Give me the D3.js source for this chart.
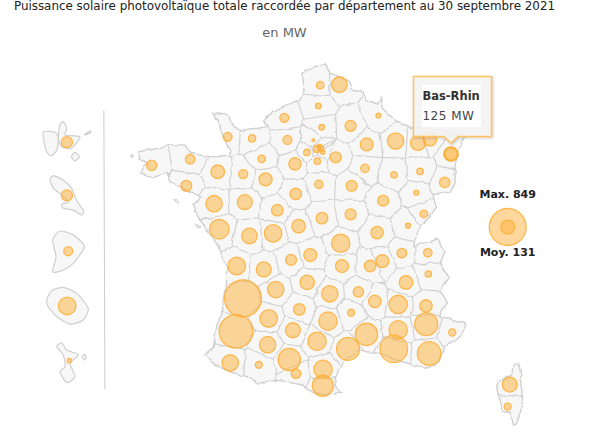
<!DOCTYPE html>
<html><head><meta charset="utf-8">
<script src="https://cdn.jsdelivr.net/npm/d3@7"></script>
<style>html,body{margin:0;padding:0;background:#fff}svg{display:block}text{font-family:"DejaVu Sans",sans-serif}</style>
</head><body><svg id="c" width="600" height="435"></svg>
<script>
const titleText = "Puissance solaire photovoltaïque totale raccordée par département au 30 septembre 2021";
const subtitleText = "en MW";
const unit = "MW";
const legendMax = 849, legendMean = 131;
const hovered = "Bas-Rhin";

const departments = ["Nord","Pas-de-Calais","Somme","Oise","Aisne","Seine-Maritime","Manche","Calvados","Eure","Finistère","Côtes-d'Armor","Ille-et-Vilaine","Morbihan","Mayenne","Orne","Sarthe","Eure-et-Loir","Yvelines","Val-d'Oise","Hauts-de-Seine","Paris","Val-de-Marne","Seine-Saint-Denis","Essonne","Seine-et-Marne","Loiret","Loir-et-Cher","Loire-Atlantique","Maine-et-Loire","Indre-et-Loire","Cher","Nièvre","Indre","Vendée","Deux-Sèvres","Vienne","Allier","Ardennes","Marne","Meuse","Meurthe-et-Moselle","Moselle","Bas-Rhin","Aube","Haute-Marne","Vosges","Yonne","Côte-d'Or","Haute-Saône","Haut-Rhin","Doubs","Jura","Saône-et-Loire","Haute-Vienne","Creuse","Puy-de-Dôme","Loire","Rhône","Ain","Haute-Savoie","Savoie","Isère","Charente-Maritime","Charente","Corrèze","Gironde","Dordogne","Cantal","Haute-Loire","Ardèche","Drôme","Hautes-Alpes","Lot","Lozère","Landes","Lot-et-Garonne","Aveyron","Tarn-et-Garonne","Gard","Tarn","Gers","Hérault","Haute-Garonne","Pyrénées-Atlantiques","Hautes-Pyrénées","Aude","Ariège","Pyrénées-Orientales","Alpes-de-Haute-Provence","Vaucluse","Alpes-Maritimes","Bouches-du-Rhône","Var","Haute-Corse","Corse-du-Sud"];
const power = [162,43,26,26,85,59,59,43,59,76,66,125,85,59,43,115,106,32,9,38,32,17,12,32,85,52,93,178,150,93,93,85,125,250,162,203,221,21,115,178,150,125,125,52,32,32,85,85,21,76,43,21,106,85,115,115,93,115,66,52,32,125,203,150,139,849,178,178,76,106,221,106,93,38,704,203,221,150,322,221,178,339,322,178,38,221,66,285,339,221,38,481,356,150,38];
const lon = [3.17,2.43,2.36,2.49,3.60,1.05,-1.13,-0.19,1.17,-4.05,-2.57,-1.51,-2.72,-0.53,0.18,0.33,1.46,1.92,2.17,2.30,2.44,2.53,2.40,2.32,3.03,2.38,1.49,-1.65,-0.47,0.78,2.50,3.60,1.60,-1.45,-0.29,0.62,3.22,4.67,4.22,5.33,6.19,6.65,7.46,4.15,5.27,6.27,3.64,4.85,6.13,7.22,6.42,5.81,4.62,1.31,2.05,3.27,4.35,4.82,5.57,6.57,6.59,5.73,-0.78,0.26,1.93,-0.54,0.72,2.80,3.90,4.53,5.43,6.50,1.63,3.62,-0.81,0.45,2.73,1.38,4.21,2.31,0.41,3.50,1.24,-1.03,0.07,2.54,1.50,2.53,6.51,5.43,7.51,5.26,6.62,9.72,9.64];
const lat = [50.55,50.54,49.99,49.43,49.47,49.68,49.18,49.14,49.10,48.43,48.59,48.26,47.89,48.20,48.60,48.06,48.47,48.77,49.09,48.86,48.88,48.78,48.94,48.54,48.64,47.93,47.68,47.42,47.46,47.25,47.04,47.14,46.83,46.75,46.57,46.64,46.38,49.74,48.98,49.07,49.02,49.12,48.73,48.35,48.18,48.27,47.89,47.50,47.71,47.98,47.15,46.84,46.66,45.94,46.07,45.78,45.78,45.91,46.12,46.13,45.57,45.35,45.78,45.69,45.35,44.93,45.16,45.05,45.10,44.85,44.77,44.73,44.64,44.55,44.06,44.40,44.33,44.09,43.98,43.80,43.71,43.60,43.32,43.23,43.18,43.06,42.95,42.63,44.25,44.10,44.03,43.60,43.48,42.66,42.08];

const overseas = ["Guadeloupe","Martinique","Guyane","La Réunion","Mayotte"];
const overseasPower = [85,85,59,203,17];
const overseasLon = [-7.31,-7.31,-7.26,-7.30,-7.22];
const overseasLat = [49.04,47.64,46.17,44.73,43.29];

const mainland = [[2.23,51.03],[2.62,51.10],[2.81,50.86],[3.12,50.78],[3.46,50.68],[3.65,50.41],[4.08,50.36],[4.19,50.15],[4.62,50.02],[4.80,50.20],[4.81,49.94],[5.31,49.62],[5.96,49.41],[6.46,49.44],[7.04,49.36],[7.5,49.28],[8.0,49.18],[7.73,48.83],[7.62,48.39],[7.62,47.99],[7.42,47.70],[7.15,47.73],[6.77,47.65],[6.91,47.33],[6.53,46.99],[6.19,46.68],[6.0,46.31],[6.46,46.39],[6.96,46.49],[7.23,46.16],[7.04,45.89],[7.35,45.47],[7.04,45.15],[7.30,44.84],[7.04,44.45],[8.07,44.28],[7.81,43.92],[7.23,43.66],[7.04,43.26],[6.58,43.10],[6.0,43.18],[5.62,43.26],[4.73,43.49],[4.35,43.49],[4.03,43.57],[3.38,43.31],[3.12,43.04],[3.0,42.60],[3.26,42.47],[2.54,42.39],[1.96,42.52],[1.72,42.65],[0.76,42.78],[0.04,42.70],[-0.40,42.87],[-1.04,43.00],[-1.62,43.18],[-2.0,43.44],[-1.69,43.62],[-1.55,44.18],[-1.31,44.68],[-1.17,45.33],[-1.17,45.76],[-1.42,46.12],[-1.5,46.33],[-1.88,46.68],[-2.27,47.08],[-2.46,47.39],[-2.13,47.60],[-2.46,47.70],[-3.35,48.00],[-3.47,48.23],[-4.05,48.10],[-4.5,48.26],[-4.24,48.49],[-4.57,48.62],[-4.5,48.79],[-3.73,48.88],[-3.35,48.97],[-2.77,48.97],[-2.58,48.75],[-1.81,48.66],[-1.04,48.66],[-1.04,48.83],[-1.31,49.18],[-1.5,49.62],[-1.69,49.80],[-1.04,49.74],[-0.92,49.45],[-0.54,49.36],[0.42,49.45],[0.23,49.58],[0.62,49.84],[1.65,50.15],[1.85,50.37],[1.72,50.85]];
const corsica = [[9.88,43.20],[10.08,43.20],[10.12,43.00],[10.23,42.52],[10.18,41.91],[9.88,41.60],[9.73,41.91],[9.46,41.99],[9.35,42.25],[9.22,42.52],[9.35,42.78],[9.73,42.87],[9.85,42.97]];
const smallIslands = [[[-3.23,47.53],[-3.04,47.48],[-3.04,47.41],[-3.19,47.47]],[[-4.88,48.70],[-4.77,48.72],[-4.77,48.66]],[[-2.38,46.89],[-2.15,46.81],[-2.27,46.78]]];
const overseasShapes = [
 [[-8.22,49.30],[-7.77,49.30],[-7.64,49.14],[-7.70,48.83],[-7.93,48.68],[-8.12,48.83]],
 [[-7.58,49.49],[-7.45,49.58],[-7.32,49.40],[-7.38,49.23],[-6.81,49.18],[-7.13,48.88],[-7.51,48.92],[-7.64,49.14]],
 [[-7.14,48.66],[-7.0,48.77],[-6.83,48.66],[-7.0,48.55]],
 [[-6.62,49.25],[-6.40,49.33],[-6.42,49.28],[-6.60,49.23]],
 [[-7.96,48.04],[-7.83,48.16],[-7.45,48.04],[-7.13,47.83],[-7.0,47.60],[-6.87,47.43],[-6.68,47.25],[-6.74,47.12],[-7.07,47.25],[-7.45,47.30],[-7.51,47.41],[-7.26,47.47],[-7.51,47.65],[-7.83,47.83]],
 [[-7.86,46.47],[-7.58,46.70],[-7.07,46.60],[-6.64,46.29],[-7.07,45.85],[-7.51,45.66],[-7.86,45.63],[-7.73,46.03]],
 [[-8.09,44.89],[-7.90,45.13],[-7.45,45.22],[-6.93,45.06],[-6.49,44.67],[-6.68,44.36],[-7.19,44.25],[-7.70,44.45],[-8.03,44.71]],
 [[-7.70,43.66],[-7.51,43.76],[-7.32,43.57],[-6.87,43.44],[-7.19,43.22],[-7.0,42.87],[-7.32,42.71],[-7.58,43.00],[-7.38,43.13],[-7.45,43.44]],
 [[-6.72,43.39],[-6.64,43.46],[-6.57,43.38],[-6.64,43.31]]
];

const svg = d3.select("#c");
const x = d3.scaleLinear().domain([0,10]).range([257,517]);
const y = d3.scaleLinear().domain([48.86,42.86]).range([149,377]);
const r = d3.scaleSqrt().domain([0,legendMax]).range([0,19]);
const line = d3.line().x(d=>x(d[0])).y(d=>y(d[1])).curve(d3.curveCardinalClosed.tension(0.35));
const poly = d3.line().x(d=>x(d[0])).y(d=>y(d[1]));

const defs = svg.append("defs");
const f = defs.append("filter").attr("id","rough").attr("filterUnits","userSpaceOnUse")
  .attr("x",0).attr("y",0).attr("width",600).attr("height",435).attr("color-interpolation-filters","sRGB");
f.append("feTurbulence").attr("type","fractalNoise").attr("baseFrequency",0.11).attr("numOctaves",2).attr("seed",4).attr("result","n");
f.append("feDisplacementMap").attr("in","SourceGraphic").attr("in2","n").attr("scale",4.5).attr("xChannelSelector","R").attr("yChannelSelector","G").attr("result","d");
f.append("feGaussianBlur").attr("in","d").attr("stdDeviation",0.3);
const soft = defs.append("filter").attr("id","soft");
soft.append("feGaussianBlur").attr("stdDeviation",0.25);
const shadow = defs.append("filter").attr("id","shadow").attr("x","-20%").attr("y","-20%").attr("width","150%").attr("height","150%");
shadow.append("feDropShadow").attr("dx",1).attr("dy",1).attr("stdDeviation",1.2).attr("flood-color","#000").attr("flood-opacity",0.25);

const metroPath = poly(mainland)+"Z"+poly(corsica)+"Z";
defs.append("clipPath").attr("id","metro").append("path").attr("d",metroPath);

const base = svg.append("g").attr("filter","url(#rough)");
base.append("path").attr("d",metroPath).attr("fill","#f7f7f7");
const seeds = lon.map((d,i)=>[x(d),y(lat[i])]);
const voronoi = d3.Delaunay.from(seeds).voronoi([0,0,600,435]);
base.append("path").attr("clip-path","url(#metro)").attr("d",voronoi.render())
  .attr("fill","none").attr("stroke","#d2d2d2").attr("stroke-width",1.2);
base.append("path").attr("d",metroPath).attr("fill","none").attr("stroke","#cfcfcf").attr("stroke-width",1.3);
base.selectAll(".isl").data(smallIslands).join("path").attr("d",d=>poly(d)+"Z").attr("fill","#eee").attr("stroke","#cfcfcf").attr("stroke-width",1);

svg.append("g").attr("filter","url(#soft)").selectAll("path").data(overseasShapes).join("path")
  .attr("d",d=>line(d)).attr("fill","#f7f7f7").attr("stroke","#cfcfcf").attr("stroke-width",1.2);

svg.append("line").attr("x1",x(-5.89)).attr("x2",x(-5.85)).attr("y1",y(49.87)).attr("y2",y(42.54))
  .attr("stroke","#cccccc").attr("stroke-width",1);

const fillC = "rgba(253,176,58,0.5)", strokeC = "rgba(253,176,58,0.85)";
const bubbles = departments.map((n,i)=>({n,v:power[i],lon:lon[i],lat:lat[i]}))
  .concat(overseas.map((n,i)=>({n,v:overseasPower[i],lon:overseasLon[i],lat:overseasLat[i]})));
svg.append("g").attr("filter","url(#soft)").selectAll("circle").data(bubbles).join("circle")
  .attr("cx",d=>x(d.lon)).attr("cy",d=>y(d.lat)).attr("r",d=>r(d.v)-0.5)
  .attr("fill",d=>d.n===hovered?"rgba(252,172,44,0.62)":fillC)
  .attr("stroke",d=>d.n===hovered?"#fbb034":strokeC)
  .attr("stroke-width",d=>d.n===hovered?2:1.3);

const lx = 507.7, ly = 227;
[legendMax,legendMean].forEach(v=>{
  svg.append("circle").attr("cx",lx).attr("cy",ly).attr("r",r(v)-0.5).attr("fill",fillC).attr("stroke",strokeC).attr("stroke-width",1.3);
});
svg.append("text").attr("x",lx).attr("y",198).attr("text-anchor","middle").attr("font-size",11).attr("font-weight",700).attr("fill","#222").text("Max. "+legendMax);
svg.append("text").attr("x",lx).attr("y",256).attr("text-anchor","middle").attr("font-size",11).attr("font-weight",700).attr("fill","#222").text("Moy. "+legendMean);

svg.append("text").attr("x",284.5).attr("y",10).attr("text-anchor","middle").attr("font-size",11.9).attr("fill","#222").text(titleText);
svg.append("text").attr("x",284.5).attr("y",37).attr("text-anchor","middle").attr("font-size",13).attr("fill","#666").text(subtitleText);

const hi = bubbles.find(d=>d.n===hovered);
const hx = x(hi.lon), hy = y(hi.lat);
const tip = svg.append("g");
const bx = hx-37.5, by = hy-77.5, bw = 78, bh = 60, ax = hx, ay = hy-11;
tip.append("path").attr("filter","url(#shadow)")
  .attr("d",`M${bx},${by}H${bx+bw}V${by+bh}H${ax+7}L${ax},${ay}L${ax-7},${by+bh}H${bx}Z`)
  .attr("fill","rgba(247,247,247,0.85)").attr("stroke","#fdc15f").attr("stroke-width",1.5);
tip.append("rect").attr("x",bx+8.5).attr("y",by+8.5).attr("width",59).attr("height",42).attr("fill","#fff").attr("opacity",0.9);
tip.append("text").attr("x",bx+9).attr("y",by+23.5).attr("font-size",11.5).attr("font-weight",700).attr("fill","#333").text(hi.n);
tip.append("text").attr("x",bx+9).attr("y",by+43.5).attr("font-size",12).attr("letter-spacing",0.5).attr("fill","#444").text(hi.v+" "+unit);
</script></body></html>
